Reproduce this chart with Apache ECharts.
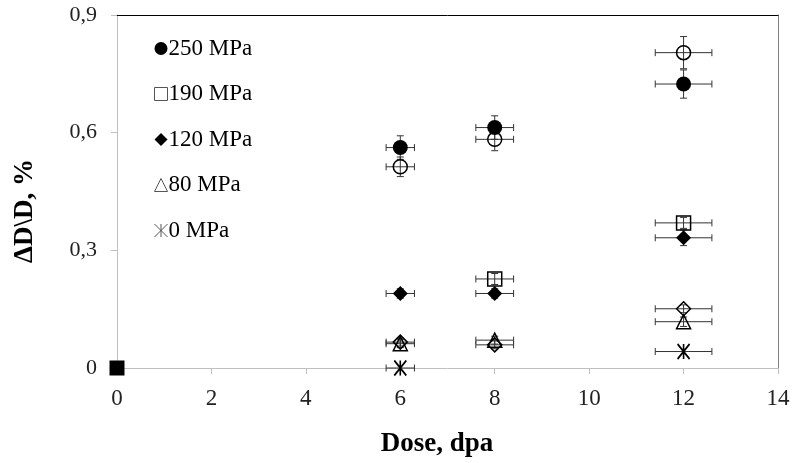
<!DOCTYPE html>
<html>
<head>
<meta charset="utf-8">
<script src="https://cdn.jsdelivr.net/npm/echarts@6/dist/echarts.min.js"></script>
<style>html,body{margin:0;padding:0;background:#fff}#c{width:796px;height:463px}</style>
</head>
<body>
<div id="c"></div>
<script>
// ---- data ----
const doses = [6, 8, 12];
const doseErr = [0.3, 0.4, 0.6];
const s250 = [0.562, 0.613, 0.724];
const s250Err = [0.03, 0.03, 0.036];
const s250open = [0.513, 0.583, 0.804];
const s250openErr = [0.025, 0.029, 0.041];
const doses190 = [8, 12];
const dose190Err = [0.4, 0.6];
const s190 = [0.227, 0.370];
const s190Err = [0.014, 0.014];
const s120 = [0.19, 0.19, 0.332];
const s120Err = [0.012, 0.012, 0.02];
const s120open = [0.066, 0.059, 0.151];
const s120openErr = [0.01, 0.01, 0.01];
const s80 = [0.062, 0.071, 0.118];
const s80Err = [0.01, 0.01, 0.012];
const doses0 = [6, 12];
const dose0Err = [0.3, 0.6];
const s0 = [0, 0.042];
const s0Err = [0, 0];
const originX = [0];
const originY = [0];
const xTicks = ['0', '2', '4', '6', '8', '10', '12', '14'];
const yTicks = ['0', '0,3', '0,6', '0,9'];
const legendNames = ['250 MPa', '190 MPa', '120 MPa', '80 MPa', '0 MPa'];
const xTitle = 'Dose, dpa';
const yTitle = 'ΔD\\D, %';

const FONT = '"Liberation Serif", "Times New Roman", serif';
const STAR = 'path://M0,-1L0,1M-1,-1L1,1M-1,1L1,-1';

function pts(xs, ys) { return xs.map((x, i) => [x, ys[i]]); }
function errs(xs, xe, ys, ye) { return xs.map((x, i) => [x, ys[i], xe[i], ye[i]]); }

const errData = [].concat(
  errs(doses, doseErr, s250, s250Err),
  errs(doses, doseErr, s250open, s250openErr),
  errs(doses190, dose190Err, s190, s190Err),
  errs(doses, doseErr, s120, s120Err),
  errs(doses, doseErr, s120open, s120openErr),
  errs(doses, doseErr, s80, s80Err),
  errs(doses0, dose0Err, s0, s0Err)
);

const hollow = {color: 'rgba(0,0,0,0)', borderColor: '#000', borderWidth: 1.5, opacity: 1};
const filled = {color: '#000', borderColor: '#000', borderWidth: 0, opacity: 1};

const chart = echarts.init(document.getElementById('c'), null, {renderer: 'canvas'});
chart.setOption({
  animation: false,
  backgroundColor: '#fff',
  grid: {left: 117, right: 18, top: 15, bottom: 95, containLabel: false},
  legend: {
    orient: 'vertical', left: 152, top: 37, itemGap: 22.5, padding: 0,
    itemWidth: 13, itemHeight: 13,
    textStyle: {fontFamily: FONT, fontSize: 23, color: '#000', padding: [0, 0, 0, -4]},
    data: [
      {name: legendNames[0], icon: 'circle', itemStyle: {color: '#000', borderWidth: 0, opacity: 1}},
      {name: legendNames[1], icon: 'rect', itemStyle: {color: 'rgba(0,0,0,0)', borderColor: '#555', borderWidth: 1, opacity: 1}},
      {name: legendNames[2], icon: 'diamond', itemStyle: {color: '#000', borderWidth: 0, opacity: 1}},
      {name: legendNames[3], icon: 'triangle', itemStyle: {color: 'rgba(0,0,0,0)', borderColor: '#555', borderWidth: 1, opacity: 1}},
      {name: legendNames[4], icon: STAR, itemStyle: {color: 'none', borderColor: '#555', borderWidth: 1, opacity: 1}}
    ]
  },
  graphic: [
    {type: 'text', x: 437, y: 444, silent: true,
      style: {text: xTitle, align: 'center', verticalAlign: 'middle', fill: '#000',
        fontFamily: FONT, fontSize: 27, fontWeight: 'bold'}},
    {type: 'text', x: 25, y: 211, rotation: Math.PI / 2, silent: true,
      style: {text: yTitle, align: 'center', verticalAlign: 'middle', fill: '#000',
        fontFamily: FONT, fontSize: 27, fontWeight: 'bold'}}
  ],
  xAxis: [{
    type: 'value', min: 0, max: 14, interval: 2, position: 'bottom',
    axisLine: {show: true, onZero: false, lineStyle: {color: '#bfbfbf', width: 1}},
    axisTick: {show: true, length: 6, lineStyle: {color: '#bfbfbf'}},
    axisLabel: {margin: 19, fontFamily: FONT, fontSize: 23, color: '#222',
      formatter: (v) => xTicks[Math.round(v / 2)]},
    splitLine: {show: false}
  }, {
    type: 'value', min: 0, max: 14, position: 'top',
    axisLine: {show: true, onZero: false, lineStyle: {color: '#000', width: 1}},
    axisTick: {show: false}, axisLabel: {show: false}, splitLine: {show: false}
  }],
  yAxis: [{
    type: 'value', min: 0, max: 0.9, interval: 0.3, position: 'left',
    axisLine: {show: true, onZero: false, lineStyle: {color: '#bfbfbf', width: 1}},
    axisTick: {show: true, length: 6, lineStyle: {color: '#bfbfbf'}},
    axisLabel: {margin: 20, fontFamily: FONT, fontSize: 22, color: '#222',
      formatter: (v) => yTicks[Math.round(v / 0.3)]},
    splitLine: {show: false}
  }, {
    type: 'value', min: 0, max: 0.9, position: 'right',
    axisLine: {show: true, onZero: false, lineStyle: {color: '#808080', width: 1}},
    axisTick: {show: false}, axisLabel: {show: false}, splitLine: {show: false}
  }],
  series: [
    {
      type: 'custom', name: 'err', z: 1, silent: true,
      data: errData,
      renderItem: function (params, api) {
        const x = api.value(0), y = api.value(1), xe = api.value(2), ye = api.value(3);
        const c = api.coord([x, y]);
        const l = api.coord([x - xe, y]);
        const r = api.coord([x + xe, y]);
        const st = {stroke: '#333', lineWidth: 1};
        const cap = 3.5;
        const ch = [
          {type: 'line', shape: {x1: l[0], y1: c[1], x2: r[0], y2: c[1]}, style: st},
          {type: 'line', shape: {x1: l[0], y1: c[1] - cap, x2: l[0], y2: c[1] + cap}, style: st},
          {type: 'line', shape: {x1: r[0], y1: c[1] - cap, x2: r[0], y2: c[1] + cap}, style: st}
        ];
        if (ye > 0) {
          const t = api.coord([x, y + ye]);
          const b = api.coord([x, y - ye]);
          ch.push({type: 'line', shape: {x1: c[0], y1: t[1], x2: c[0], y2: b[1]}, style: st});
          ch.push({type: 'line', shape: {x1: c[0] - cap, y1: t[1], x2: c[0] + cap, y2: t[1]}, style: st});
          ch.push({type: 'line', shape: {x1: c[0] - cap, y1: b[1], x2: c[0] + cap, y2: b[1]}, style: st});
        }
        return {type: 'group', children: ch};
      }
    },
    {type: 'scatter', name: legendNames[0], z: 3, symbol: 'circle', symbolSize: 15, itemStyle: filled, data: pts(doses, s250)},
    {type: 'scatter', name: '250 MPa (open)', z: 3, symbol: 'circle', symbolSize: 14, itemStyle: hollow, data: pts(doses, s250open)},
    {type: 'scatter', name: legendNames[1], z: 3, symbol: 'rect', symbolSize: 14, itemStyle: hollow, data: pts(doses190, s190)},
    {type: 'scatter', name: legendNames[2], z: 3, symbol: 'diamond', symbolSize: 15, itemStyle: filled, data: pts(doses, s120)},
    {type: 'scatter', name: '120 MPa (open)', z: 3, symbol: 'diamond', symbolSize: 14, itemStyle: hollow, data: pts(doses, s120open)},
    {type: 'scatter', name: legendNames[3], z: 3, symbol: 'triangle', symbolSize: 14, itemStyle: hollow, data: pts(doses, s80)},
    {type: 'scatter', name: legendNames[4], z: 3, symbol: STAR, symbolSize: [12, 15],
      itemStyle: {color: 'none', borderColor: '#000', borderWidth: 1.8, opacity: 1}, data: pts(doses0, s0)},
    {type: 'scatter', name: 'origin', z: 3, symbol: 'rect', symbolSize: 15, clip: false, itemStyle: filled, data: pts(originX, originY)}
  ]
});
</script>
</body>
</html>
